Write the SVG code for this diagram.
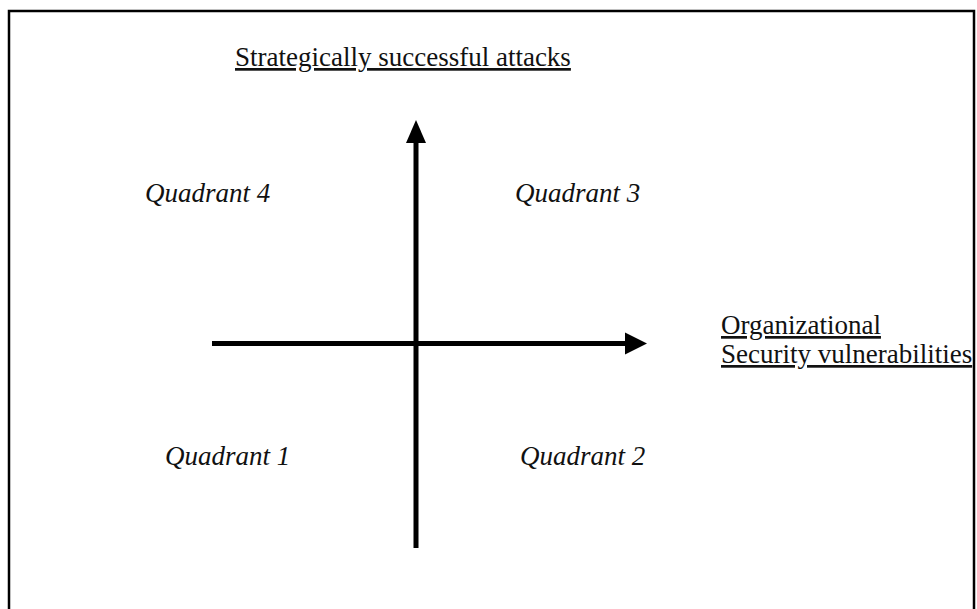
<svg xmlns="http://www.w3.org/2000/svg" width="977" height="609" viewBox="0 0 977 609">
<style>
.lbl{font-family:"Liberation Serif","Times New Roman",serif;font-size:27px;fill:#111}
.ul{text-decoration:underline}
.q{font-style:italic}
.ax{stroke:#000;stroke-width:5;fill:none}
.head{fill:#000}
</style>
<rect width="977" height="609" fill="#fff"/>
<path d="M9,612 V11 H974 V612" fill="none" stroke="#000" stroke-width="2.5"/>
<g id="title"><text class="lbl ul" x="235" y="66">Strategically successful attacks</text></g>
<g id="xlabel"><text class="lbl ul" x="721" y="334">Organizational</text><text class="lbl ul" x="721" y="363">Security vulnerabilities</text></g>
<g id="q4"><text class="lbl q" x="145" y="202">Quadrant 4</text></g>
<g id="q3"><text class="lbl q" x="515" y="202">Quadrant 3</text></g>
<g id="q1"><text class="lbl q" x="165" y="465">Quadrant 1</text></g>
<g id="q2"><text class="lbl q" x="520" y="465">Quadrant 2</text></g>
<g id="connectors">
<line class="ax" x1="416" y1="548" x2="416" y2="138"/>
<polygon class="head" points="416,120 406,143 426,143"/>
<line class="ax" x1="212" y1="343.5" x2="630" y2="343.5"/>
<polygon class="head" points="647,343.5 625,332.5 625,354.5"/>
</g>
</svg>
